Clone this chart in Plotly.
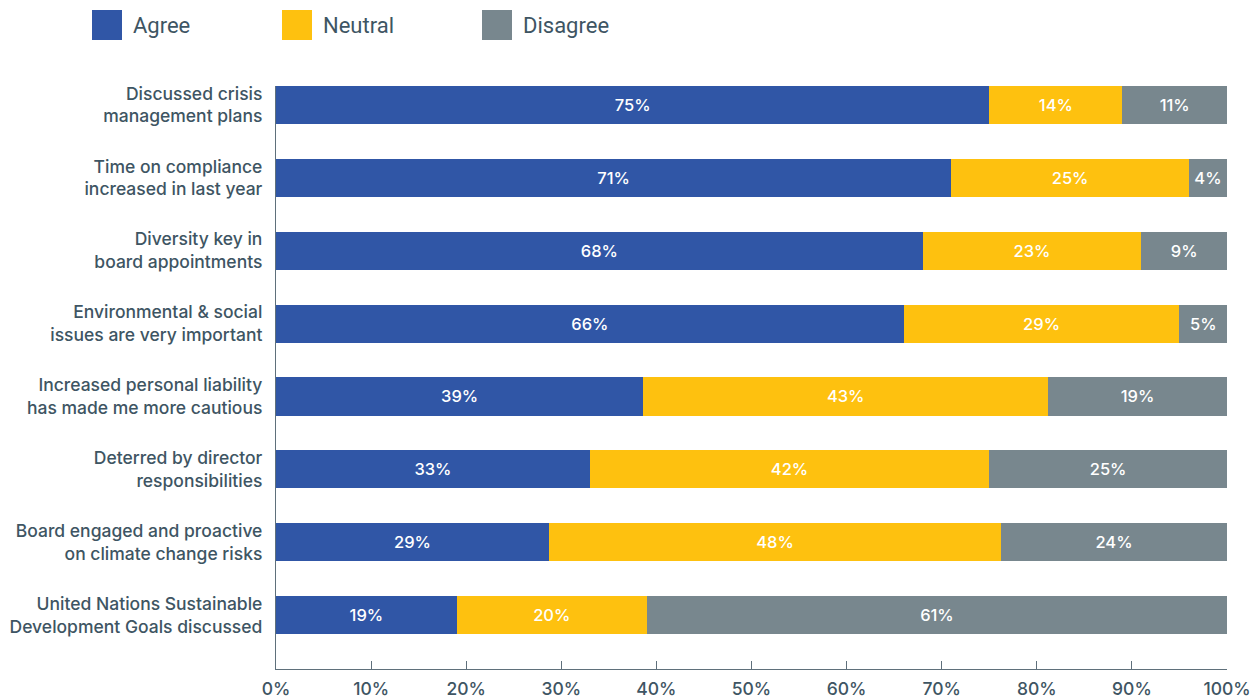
import plotly.graph_objects as go

# Survey statements, top to bottom
statements = [
    "Discussed crisis<br>management plans",
    "Time on compliance<br>increased in last year",
    "Diversity key in<br>board appointments",
    "Environmental & social<br>issues are very important",
    "Increased personal liability<br>has made me more cautious",
    "Deterred by director<br>responsibilities",
    "Board engaged and proactive<br>on climate change risks",
    "United Nations Sustainable<br>Development Goals discussed",
]

# Share of respondents (%)
agree = [75, 71, 68, 66, 39, 33, 29, 19]
neutral = [14, 25, 23, 29, 43, 42, 48, 20]
disagree = [11, 4, 9, 5, 19, 25, 24, 61]

series = [
    ("Agree", agree, "#3056A6"),
    ("Neutral", neutral, "#FEC10F"),
    ("Disagree", disagree, "#78878E"),
]

x_ticks = list(range(0, 101, 10))

W, H = 1257, 699
ML, MR, MT, MB = 276, 30, 86, 30
TEXT = "#3E5563"
AXIS = "#5F707B"
FONT = "Inter, Roboto, sans-serif"

fig = go.Figure()
for name, vals, color in series:
    fig.add_trace(go.Bar(
        y=statements,
        x=vals,
        name=name,
        orientation="h",
        marker=dict(color=color, line=dict(width=0)),
        text=[f"{v}%" for v in vals],
        textposition="inside",
        insidetextanchor="middle",
        constraintext="none",
        textfont=dict(color="white", size=16.5, family=FONT, weight=500),
        showlegend=False,
        hoverinfo="skip",
    ))

# Legend: large colour swatches with labels above the plot
pw = W - ML - MR
ph = H - MT - MB
legend_items = [("Agree", "#3056A6", 92), ("Neutral", "#FEC10F", 282), ("Disagree", "#78878E", 482)]
for label, color, px in legend_items:
    fig.add_shape(
        type="rect", xref="paper", yref="paper",
        x0=(px - ML) / pw, x1=(px + 30 - ML) / pw,
        y0=(H - MB - 40) / ph, y1=(H - MB - 10) / ph,
        fillcolor=color, line=dict(width=0),
    )
    fig.add_annotation(
        xref="paper", yref="paper",
        x=(px + 39 - ML) / pw, y=(H - MB - 25) / ph,
        text=label, showarrow=False, xanchor="left", yanchor="middle",
        font=dict(size=22, color=TEXT, family="Roboto, sans-serif"),
    )

fig.update_layout(
    width=W, height=H,
    barmode="stack",
    barnorm="percent",
    bargap=0.477,
    margin=dict(l=ML, r=MR, t=MT, b=MB, autoexpand=False),
    plot_bgcolor="white",
    paper_bgcolor="white",
    font=dict(family=FONT, color=TEXT),
    xaxis=dict(
        range=[0, 100],
        tickvals=x_ticks,
        ticktext=[f"{t}%" for t in x_ticks],
        ticks="inside", ticklen=8, tickwidth=1.2, tickcolor=AXIS,
        showline=True, linecolor=AXIS, linewidth=1.2,
        showgrid=False, zeroline=False, automargin=False,
        ticklabelstandoff=4,
        tickfont=dict(size=17.5, color=TEXT, weight=500),
    ),
    yaxis=dict(
        categoryorder="array",
        categoryarray=statements,
        range=[7.74, -0.26],
        showline=True, linecolor=AXIS, linewidth=1.2,
        showgrid=False, zeroline=False, automargin=False,
        ticks="", ticklabelstandoff=9,
        tickfont=dict(size=17.5, color=TEXT, weight=500),
    ),
)

fig.write_html("out.html")
